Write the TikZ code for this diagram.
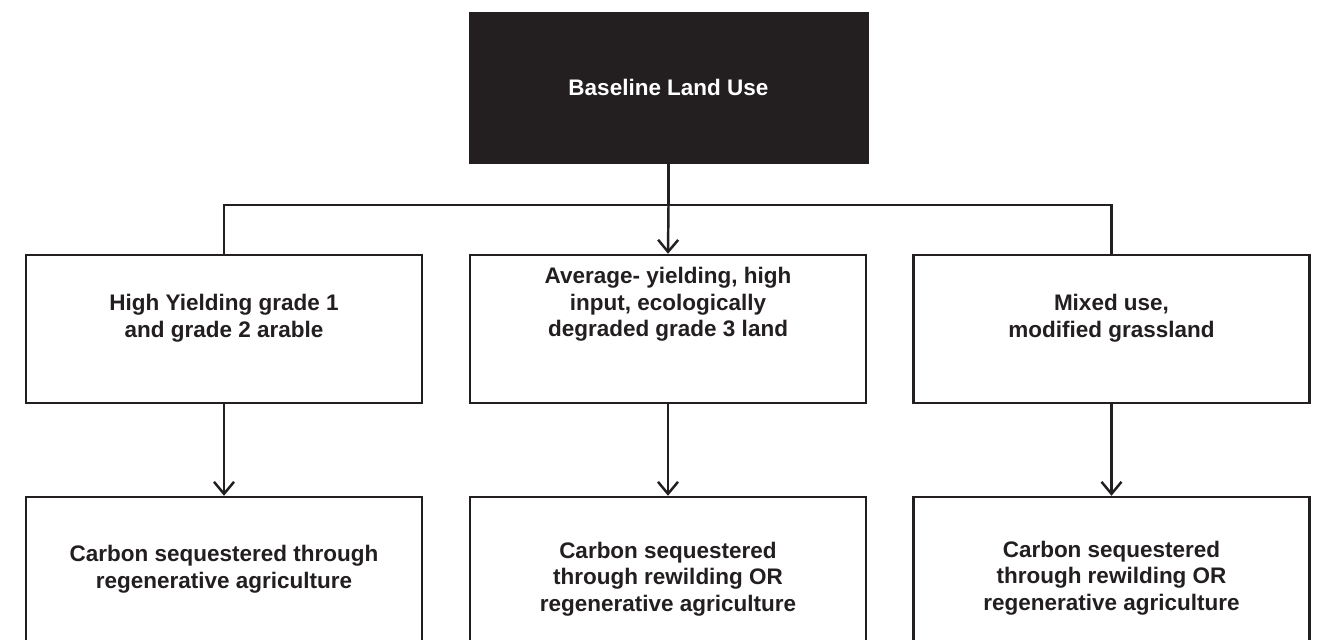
\documentclass[tikz,border=0pt]{standalone}
\usepackage{fontspec}
\setmainfont{Liberation Sans}
\usepackage{tikz}
\usetikzlibrary{arrows.meta}
\definecolor{inkdark}{RGB}{35,31,32}

\begin{document}
\begin{tikzpicture}[
    box/.style={draw=inkdark, line width=1.4pt, minimum width=7.92cm,
                minimum height=2.96cm, inner sep=0pt},
    topbox/.style={fill=inkdark, draw=inkdark, minimum width=7.98cm,
                minimum height=3.02cm, inner sep=0pt},
    txt/.style={align=center, text=inkdark, inner sep=0pt,
                font=\bfseries\fontsize{12.8}{15.1}\selectfont},
    ln/.style={line width=1.4pt, inkdark},
    arr/.style={ln, -{Straight Barb[length=2.4mm,width=4mm,line width=1.4pt]}}]
    \useasboundingbox (0,0) rectangle (26.38,-12.8);
    \clip (0,0) rectangle (26.38,-12.8);
    % top
    \node[topbox] (base) at (13.37,-1.75) {};
    \node[txt, text=white] (baset) at (base.center) {Baseline Land Use};
    % middle row
    \node[box] (arable) at (4.48,-6.58)  {};
    \node[box] (avg)    at (13.36,-6.58) {};
    \node[box] (mixed)  at (22.23,-6.58) {};
    \node[txt] (arablet) at (4.48,-6.36)  {High Yielding grade 1\\and grade 2 arable};
    \node[txt] (avgt)    at (13.36,-6.09) {Average- yielding, high\\input, ecologically\\degraded grade 3 land};
    \node[txt] (mixedt)  at (22.23,-6.36) {Mixed use,\\modified grassland};
    % bottom row
    \node[box] (regen)  at (4.48,-11.42)  {};
    \node[box] (rewA)   at (13.36,-11.42) {};
    \node[box] (rewB)   at (22.23,-11.42) {};
    \node[txt] (regent) at (4.48,-11.38)  {Carbon sequestered through\\regenerative agriculture};
    \node[txt] (rewAt)  at (13.36,-11.58) {Carbon sequestered\\through rewilding OR\\regenerative agriculture};
    \node[txt] (rewBt)  at (22.23,-11.56) {Carbon sequestered\\through rewilding OR\\regenerative agriculture};
    % connectors
    \coordinate (bus) at (13.37,-4.10);
    \draw[ln] (base.south) -- (bus);
    \draw[ln] (arable.north) |- (bus) -| (mixed.north);
    \draw[arr] (bus) -- (avg.north);
    \draw[arr] (arable) -- (regen);
    \draw[arr] (avg) -- (rewA);
    \draw[arr] (mixed) -- (rewB);
\end{tikzpicture}
\end{document}
